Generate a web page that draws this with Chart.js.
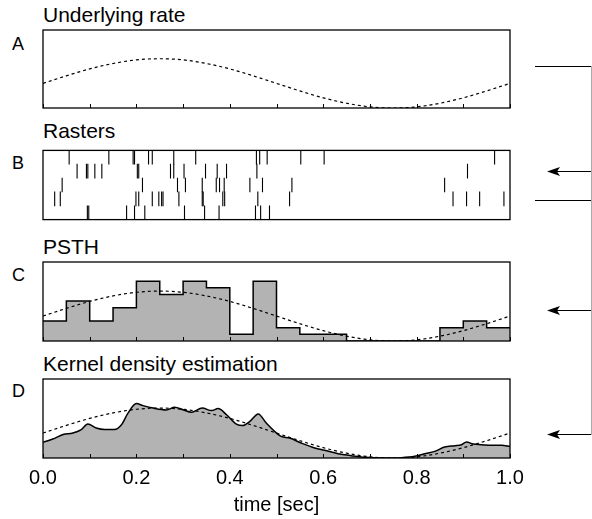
<!DOCTYPE html>
<html>
<head>
<meta charset="utf-8">
<script src="https://cdn.jsdelivr.net/npm/chart.js@4/dist/chart.umd.min.js"></script>
<style>
  body { margin:0; background:#fff; width:592px; height:519px; position:relative; overflow:hidden;
         font-family:"Liberation Sans", Arial, sans-serif; color:#000; }
  .box { position:absolute; left:0; width:592px; }
  .ttl { position:absolute; left:43px; font-size:21px; line-height:1; white-space:nowrap; }
  .let { position:absolute; left:12px; font-size:18px; line-height:1; }
  svg { position:absolute; left:0; top:0; }
</style>
</head>
<body>

<div class="ttl" style="top:4px">Underlying rate</div>
<div class="ttl" style="top:120px">Rasters</div>
<div class="ttl" style="top:236px">PSTH</div>
<div class="ttl" style="top:353px">Kernel density estimation</div>
<div class="let" style="top:35px">A</div>
<div class="let" style="top:154px">B</div>
<div class="let" style="top:266px">C</div>
<div class="let" style="top:382px">D</div>

<div class="box" style="top:26px;height:86px"><canvas id="rate"></canvas></div>
<div class="box" style="top:142px;height:86px"><canvas id="raster"></canvas></div>
<div class="box" style="top:258px;height:87px"><canvas id="psth"></canvas></div>
<div class="box" style="top:375px;height:144px"><canvas id="kde"></canvas></div>

<svg width="592" height="519">
  <g stroke="#000" stroke-width="1" fill="none">
    <path d="M535 66.5 H591"/>
    <path d="M535 200.5 H591"/>
    <path d="M591 171.5 H556"/>
    <path d="M591 310.5 H556"/>
    <path d="M591 434.5 H556"/>
  </g>
  <path d="M591.5 66 V435" stroke="#aaa" stroke-width="1"/>
  <g fill="#000">
    <polygon points="547,171.5 560,167 557,171.5 560,176"/>
    <polygon points="547,310.5 560,306 557,310.5 560,315"/>
    <polygon points="547,434.5 560,430 557,434.5 560,439"/>
  </g>
</svg>

<script>
// underlying rate (Hz)
var rateTime = [0, 0.05, 0.1, 0.15, 0.2, 0.25, 0.3, 0.35, 0.4, 0.45, 0.5, 0.55, 0.6, 0.65, 0.7, 0.75, 0.8, 0.85, 0.9, 0.95, 1.0];
var rateHz   = [15, 19.6, 23.8, 27.1, 29.3, 30, 29.3, 27.1, 23.8, 19.6, 15, 10.4, 6.2, 2.9, 0.7, 0, 0.7, 2.9, 6.2, 10.4, 15];

// spike times (sec), one array per trial, top row first
var trial1 = [0.056, 0.141, 0.193, 0.196, 0.226, 0.234, 0.280, 0.327, 0.457, 0.464, 0.480, 0.552, 0.602, 0.967];
var trial2 = [0.073, 0.093, 0.096, 0.111, 0.126, 0.202, 0.205, 0.273, 0.280, 0.302, 0.348, 0.373, 0.393, 0.458, 0.909];
var trial3 = [0.041, 0.213, 0.288, 0.305, 0.341, 0.371, 0.378, 0.388, 0.443, 0.470, 0.533, 0.860];
var trial4 = [0.025, 0.037, 0.199, 0.205, 0.234, 0.248, 0.254, 0.257, 0.291, 0.341, 0.343, 0.385, 0.389, 0.460, 0.528, 0.878, 0.907, 0.935, 0.987];
var trial5 = [0.095, 0.098, 0.179, 0.196, 0.218, 0.303, 0.346, 0.377, 0.455, 0.466, 0.485];

// PSTH, 50 ms bins (Hz)
var binStart = [0, 0.05, 0.1, 0.15, 0.2, 0.25, 0.3, 0.35, 0.4, 0.45, 0.5, 0.55, 0.6, 0.65, 0.7, 0.75, 0.8, 0.85, 0.9, 0.95];
var psthHz   = [12, 24, 12, 20, 36, 28, 36, 32, 4, 36, 8, 4, 4, 0, 0, 0, 0, 8, 12, 8];

// kernel density estimate (Hz)
var kdeTime = [0, 0.021, 0.043, 0.064, 0.082, 0.096, 0.114, 0.132, 0.153, 0.168, 0.182, 0.2, 0.214, 0.236, 0.264, 0.282, 0.3, 0.318, 0.341, 0.361, 0.375, 0.393, 0.414, 0.428, 0.443, 0.461, 0.478, 0.5, 0.51, 0.528, 0.553, 0.582, 0.603, 0.632, 0.66, 0.689, 0.732, 0.767, 0.796, 0.817, 0.839, 0.86, 0.882, 0.896, 0.907, 0.921, 0.939, 0.96, 0.982, 1.0];
var kdeHz   = [9.4, 11.4, 14.1, 15, 17.1, 20.4, 18, 17.1, 17.1, 20, 27, 32.7, 31.5, 30, 28.9, 30.5, 29, 27.5, 30, 28.5, 29.7, 26, 20.4, 19.5, 22, 26.5, 21, 15, 13, 12, 9, 6, 4.6, 2.6, 1.4, 0.4, 0, 0.2, 1, 2.5, 4, 6.6, 7.4, 8, 9.6, 8.4, 8, 7.6, 7.6, 7];

// axis ticks
var minorTicks = [0, 0.1, 0.2, 0.3, 0.4, 0.5, 0.6, 0.7, 0.8, 0.9, 1.0];
var tickValues = [0, 0.2, 0.4, 0.6, 0.8, 1.0];
var tickLabels = ['0.0', '0.2', '0.4', '0.6', '0.8', '1.0'];

var FONT = '"Liberation Sans", Arial, sans-serif';
var GREY = '#b3b3b3';
var Y_MAX = 47.5;

function pts(xs, ys) {
    return xs.map(function (x, i) { return {x: x, y: ys[i]}; });
}

// box round the plot area + small inside ticks on the bottom edge
var frame = {
    id: 'frame',
    afterDraw: function (chart, args, opts) {
        var ctx = chart.ctx, a = chart.chartArea, x = chart.scales.x;
        ctx.save();
        ctx.strokeStyle = '#000';
        if (opts.ticks) {
            ctx.lineWidth = 1;
            ctx.beginPath();
            minorTicks.forEach(function (v) {
                var px = Math.round(x.getPixelForValue(v)) + 0.5;
                ctx.moveTo(px, a.bottom);
                ctx.lineTo(px, a.bottom - 4);
            });
            ctx.stroke();
        }
        ctx.lineWidth = 1.3;
        ctx.strokeRect(a.left, a.top, a.right - a.left, a.bottom - a.top);
        ctx.restore();
    }
};

function options(yMax, ticks, showX) {
    var xs = {type: 'linear', min: 0, max: 1, display: false};
    if (showX) {
        xs = {
            type: 'linear', min: 0, max: 1, display: true,
            grid: {display: false, drawTicks: false},
            border: {display: false},
            afterBuildTicks: function (s) { s.ticks = tickValues.map(function (v) { return {value: v}; }); },
            afterFit: function (s) { s.height = 61; },
            ticks: {
                autoSkip: false, maxRotation: 0, padding: 8, color: '#000',
                font: {family: FONT, size: 20},
                callback: function (v, i) { return tickLabels[i]; }
            },
            title: {display: true, text: 'time [sec]', color: '#000',
                    font: {family: FONT, size: 20}, padding: {top: 0, bottom: 2}}
        };
    }
    return {
        responsive: true,
        maintainAspectRatio: false,
        animation: false,
        events: [],
        layout: {padding: {left: 43, right: 82, top: 4, bottom: showX ? 0 : 4}},
        plugins: {legend: {display: false}, tooltip: {enabled: false}, frame: {ticks: ticks}},
        scales: {x: xs, y: {type: 'linear', min: 0, max: yMax, display: false}}
    };
}

function rateLine() {
    return {
        data: pts(rateTime, rateHz),
        borderColor: '#000', borderWidth: 1.2, borderDash: [3, 3],
        pointRadius: 0, fill: false, cubicInterpolationMode: 'monotone'
    };
}

// A
new Chart(document.getElementById('rate'), {
    type: 'line',
    data: {datasets: [rateLine()]},
    options: options(Y_MAX, true, false),
    plugins: [frame]
});

// B
var trials = [trial1, trial2, trial3, trial4, trial5];
new Chart(document.getElementById('raster'), {
    type: 'scatter',
    data: {
        datasets: trials.map(function (t, i) {
            return {
                data: t.map(function (s) { return {x: s, y: 4.5 - i}; }),
                pointStyle: 'line', rotation: 90, pointRadius: 7.3,
                borderColor: '#000', pointBorderColor: '#000', pointBorderWidth: 1.1
            };
        })
    },
    options: options(5, false, false),
    plugins: [frame]
});

// C
var psthPts = pts(binStart, psthHz);
psthPts.push({x: 1.0, y: psthHz[psthHz.length - 1]});
new Chart(document.getElementById('psth'), {
    type: 'line',
    data: {
        datasets: [rateLine(), {
            data: psthPts,
            stepped: 'before',
            borderColor: '#000', borderWidth: 1.5,
            backgroundColor: GREY, fill: 'origin', pointRadius: 0
        }]
    },
    options: options(Y_MAX, true, false),
    plugins: [frame]
});

// D
new Chart(document.getElementById('kde'), {
    type: 'line',
    data: {
        datasets: [rateLine(), {
            data: pts(kdeTime, kdeHz),
            borderColor: '#000', borderWidth: 1.5,
            backgroundColor: GREY, fill: 'origin', pointRadius: 0,
            cubicInterpolationMode: 'monotone'
        }]
    },
    options: options(Y_MAX, true, true),
    plugins: [frame]
});
</script>
</body>
</html>
